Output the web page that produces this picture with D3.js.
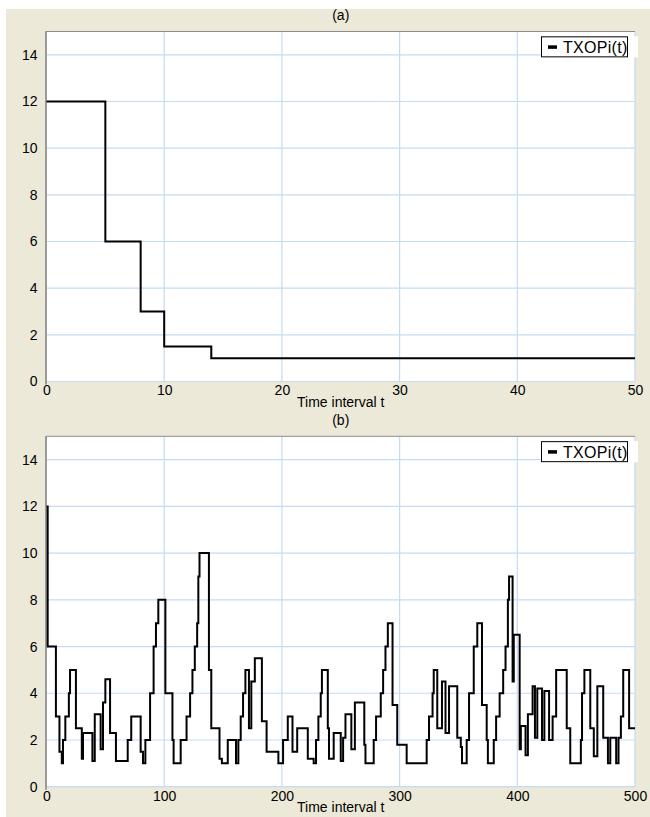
<!DOCTYPE html>
<html>
<head>
<meta charset="utf-8">
<script src="https://cdn.jsdelivr.net/npm/d3@7"></script>
<style>
  html, body { margin: 0; padding: 0; background: #ffffff; }
  svg { display: block; }
  text { font-family: "Liberation Sans", Arial, sans-serif; fill: #000; }
</style>
</head>
<body>
<svg id="chart" width="650" height="817"></svg>
<script>
// (a) TXOP of station i over the first 50 time intervals (step starts and values)
const stepStartsA = [0, 5, 8, 10, 14];
const stepValuesA = [12, 6, 3, 1.5, 1];
const ticksXA = [0, 10, 20, 30, 40, 50];

// (b) TXOP of station i over 500 time intervals (step starts and values)
const stepStartsB = [
  0, 1, 8, 11, 13, 14, 16, 19, 20, 25, 30, 31, 39, 41, 46, 48, 50, 54, 59, 69,
  72, 80, 82, 84, 88, 91, 93, 95, 101, 107, 108, 114, 119, 122, 124, 126, 128, 129, 130, 138,
  140, 147, 149, 154, 161, 163, 165, 167, 169, 172, 174, 177, 183, 187, 197, 201, 205, 209, 213, 222,
  227, 229, 231, 233, 234, 239, 240, 244, 250, 252, 254, 259, 262, 270, 271, 278, 280, 284, 286, 288,
  290, 294, 298, 306, 323, 325, 328, 329, 332, 336, 339, 342, 349, 352, 353, 357, 359, 363, 366, 370,
  374, 375, 380, 382, 385, 388, 390, 392, 393, 396, 397, 402, 403, 407, 409, 413, 415, 417, 421, 423,
  427, 430, 433, 442, 445, 454, 455, 457, 462, 465, 468, 473, 477, 479, 484, 486, 488, 490, 495
];
const stepValuesB = [
  12, 6, 3, 1.5, 1, 2, 3, 4, 5, 2.5, 1.2, 2.3, 1.1, 3.1, 1.6, 3.6, 4.6, 2.3, 1.1, 2,
  3, 1.5, 1, 2, 4, 6, 7, 8, 4, 2, 1, 2, 3, 4, 5, 6, 7, 9, 10, 5,
  2.5, 1.2, 1, 2, 1, 2, 3, 4, 5, 2.5, 4.5, 5.5, 2.8, 1.5, 1, 2, 3, 1.5, 2.5, 1.2,
  1, 2, 3, 4, 5, 2.5, 1.2, 2.3, 1.1, 2.1, 3.1, 1.6, 3.6, 1.8, 1, 2, 3, 4, 5, 6,
  7, 3.5, 1.8, 1, 2, 3, 4, 5, 2.5, 4.5, 2.3, 4.3, 2.1, 1.7, 1, 2, 4, 6, 7, 3.5,
  2, 1, 2, 3, 4, 5, 6, 8, 9, 4.5, 6.5, 1.6, 2.6, 1.35, 3.1, 4.3, 2.1, 4.2, 2, 4.1,
  2, 3, 5, 2.5, 1, 2, 4, 5, 2.5, 1.3, 4.3, 2.1, 1, 2.1, 1, 2.1, 3, 5, 2.5
];
const ticksXB = [0, 100, 200, 300, 400, 500];

const ticksY = [0, 2, 4, 6, 8, 10, 12, 14];
const seriesName = "TXOPi(t)";
const xTitle = "Time interval t";

const svg = d3.select("#chart");
const W = 650, H = 817;

// window-style panel background
svg.append("rect").attr("x", 6).attr("y", 9).attr("width", W - 6).attr("height", H - 9)
  .attr("fill", "#ECE9D8");

function drawPanel(cfg) {
  const { starts, values, xMax, xTicks, top, bottom, left, right, title } = cfg;
  const x = d3.scaleLinear().domain([0, xMax]).range([left, right]);
  const y = d3.scaleLinear().domain([0, 15]).range([bottom, top]);
  const g = svg.append("g");

  // plotting area
  g.append("rect").attr("x", left).attr("y", top)
    .attr("width", right - left).attr("height", bottom - top).attr("fill", "#ffffff");

  // grid lines
  const gridColor = "#C4DBF3";
  g.append("g").selectAll("line").data(xTicks.slice(1)).join("line")
    .attr("x1", d => x(d)).attr("x2", d => x(d))
    .attr("y1", top).attr("y2", bottom)
    .attr("stroke", gridColor).attr("stroke-width", 1.2);
  g.append("g").selectAll("line").data(ticksY).join("line")
    .attr("x1", left).attr("x2", right)
    .attr("y1", d => y(d)).attr("y2", d => y(d))
    .attr("stroke", gridColor).attr("stroke-width", 1.2);

  // frame: top and left edges
  g.append("line").attr("x1", left - 1).attr("x2", right).attr("y1", top).attr("y2", top)
    .attr("stroke", "#8C8C8C").attr("stroke-width", 1);
  g.append("line").attr("x1", left - 0.5).attr("x2", left - 0.5).attr("y1", top).attr("y2", bottom + 3)
    .attr("stroke", "#9A9A9A").attr("stroke-width", 2);

  // axes (labels only)
  const ax = g.append("g").attr("transform", `translate(0,${bottom})`)
    .call(d3.axisBottom(x).tickValues(xTicks).tickSize(0).tickPadding(4));
  ax.select(".domain").remove();
  ax.selectAll("text").attr("font-size", 14).attr("font-family", "Liberation Sans, Arial, sans-serif");

  const ay = g.append("g").attr("transform", `translate(${left},0)`)
    .call(d3.axisLeft(y).tickValues(ticksY).tickSize(0).tickPadding(9));
  ay.select(".domain").remove();
  ay.selectAll("text").attr("font-size", 14).attr("font-family", "Liberation Sans, Arial, sans-serif");

  // step series
  const pts = starts.map((t, i) => [t, values[i]]);
  pts.push([xMax, values[values.length - 1]]);
  const line = d3.line().x(d => x(d[0])).y(d => y(d[1])).curve(d3.curveStepAfter);
  g.append("path").datum(pts).attr("d", line)
    .attr("fill", "none").attr("stroke", "#000").attr("stroke-width", 2)
    .attr("stroke-linejoin", "miter");

  // titles
  g.append("text").attr("x", (left + right) / 2).attr("y", top - 11.5)
    .attr("text-anchor", "middle").attr("font-size", 14).text(title);
  g.append("text").attr("x", (left + right) / 2).attr("y", bottom + 25.5)
    .attr("text-anchor", "middle").attr("font-size", 14).text(xTitle);

  // legend
  const ly = y(14) + 2.5;
  g.append("rect").attr("x", 541).attr("y", ly - 21).attr("width", 97).attr("height", 21)
    .attr("fill", "#ffffff");
  g.append("rect").attr("x", 541.5).attr("y", ly - 20.5).attr("width", 86).attr("height", 20)
    .attr("fill", "#ffffff").attr("stroke", "#000").attr("stroke-width", 1);
  g.append("rect").attr("x", 548).attr("y", ly - 12).attr("width", 9).attr("height", 3.5)
    .attr("fill", "#000");
  g.append("text").attr("x", 563).attr("y", ly - 4.5).attr("font-size", 16)
    .attr("letter-spacing", 0.3).text(seriesName);
}

drawPanel({
  starts: stepStartsA, values: stepValuesA, xMax: 50, xTicks: ticksXA,
  top: 31.5, bottom: 381.5, left: 46.5, right: 635, title: "(a)"
});
drawPanel({
  starts: stepStartsB, values: stepValuesB, xMax: 500, xTicks: ticksXB,
  top: 436.3, bottom: 786.7, left: 46.5, right: 635, title: "(b)"
});
</script>
</body>
</html>
